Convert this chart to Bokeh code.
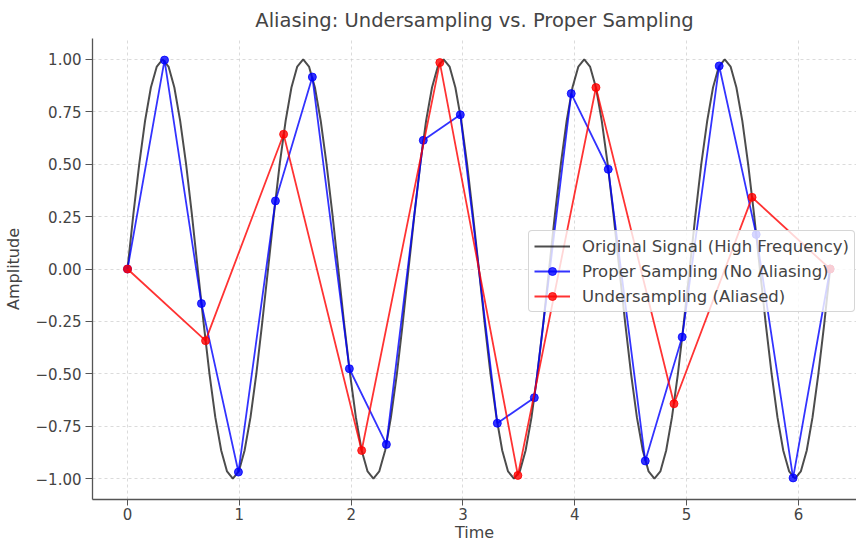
from bokeh.plotting import figure
from bokeh.models import Range1d, Legend, LegendItem, FixedTicker
from bokeh.embed import file_html
from bokeh.resources import INLINE

# Original high-frequency signal (dense samples)
signal_t = [0.000, 0.052, 0.105, 0.157, 0.209, 0.262, 0.314, 0.367, 0.419, 0.471, 0.524, 0.576,
            0.628, 0.681, 0.733, 0.785, 0.838, 0.890, 0.942, 0.995, 1.047, 1.100, 1.152, 1.204,
            1.257, 1.309, 1.361, 1.414, 1.466, 1.518, 1.571, 1.623, 1.676, 1.728, 1.780, 1.833,
            1.885, 1.937, 1.990, 2.042, 2.094, 2.147, 2.199, 2.251, 2.304, 2.356, 2.409, 2.461,
            2.513, 2.566, 2.618, 2.670, 2.723, 2.775, 2.827, 2.880, 2.932, 2.985, 3.037, 3.089,
            3.142, 3.194, 3.246, 3.299, 3.351, 3.403, 3.456, 3.508, 3.560, 3.613, 3.665, 3.718,
            3.770, 3.822, 3.875, 3.927, 3.979, 4.032, 4.084, 4.136, 4.189, 4.241, 4.294, 4.346,
            4.398, 4.451, 4.503, 4.555, 4.608, 4.660, 4.712, 4.765, 4.817, 4.869, 4.922, 4.974,
            5.027, 5.079, 5.131, 5.184, 5.236, 5.288, 5.341, 5.393, 5.445, 5.498, 5.550, 5.603,
            5.655, 5.707, 5.760, 5.812, 5.864, 5.917, 5.969, 6.021, 6.074, 6.126, 6.178, 6.231,
            6.283]
signal_y = [0.000, 0.259, 0.500, 0.707, 0.866, 0.966, 1.000, 0.966, 0.866, 0.707, 0.500, 0.259,
            0.000, -0.259, -0.500, -0.707, -0.866, -0.966, -1.000, -0.966, -0.866, -0.707, -0.500, -0.259,
            0.000, 0.259, 0.500, 0.707, 0.866, 0.966, 1.000, 0.966, 0.866, 0.707, 0.500, 0.259,
            0.000, -0.259, -0.500, -0.707, -0.866, -0.966, -1.000, -0.966, -0.866, -0.707, -0.500, -0.259,
            0.000, 0.259, 0.500, 0.707, 0.866, 0.966, 1.000, 0.966, 0.866, 0.707, 0.500, 0.259,
            0.000, -0.259, -0.500, -0.707, -0.866, -0.966, -1.000, -0.966, -0.866, -0.707, -0.500, -0.259,
            0.000, 0.259, 0.500, 0.707, 0.866, 0.966, 1.000, 0.966, 0.866, 0.707, 0.500, 0.259,
            0.000, -0.259, -0.500, -0.707, -0.866, -0.966, -1.000, -0.966, -0.866, -0.707, -0.500, -0.259,
            0.000, 0.259, 0.500, 0.707, 0.866, 0.966, 1.000, 0.966, 0.866, 0.707, 0.500, 0.259,
            0.000, -0.259, -0.500, -0.707, -0.866, -0.966, -1.000, -0.966, -0.866, -0.707, -0.500, -0.259,
            0.000]

# Proper sampling (no aliasing)
proper_t = [0.000, 0.331, 0.661, 0.992, 1.323, 1.653, 1.984, 2.315, 2.645, 2.976,
            3.307, 3.638, 3.968, 4.299, 4.630, 4.960, 5.291, 5.622, 5.952, 6.283]
proper_y = [0.000, 0.997, -0.165, -0.969, 0.325, 0.916, -0.476, -0.837, 0.614, 0.736,
            -0.736, -0.614, 0.837, 0.476, -0.916, -0.325, 0.969, 0.165, -0.997, 0.000]

# Undersampling (aliased)
under_t = [0.000, 0.698, 1.396, 2.094, 2.793, 3.491, 4.189, 4.887, 5.585, 6.283]
under_y = [0.000, -0.342, 0.643, -0.866, 0.985, -0.985, 0.866, -0.643, 0.342, 0.000]

x_ticks = [0, 1, 2, 3, 4, 5, 6]
y_ticks = [-1.00, -0.75, -0.50, -0.25, 0.00, 0.25, 0.50, 0.75, 1.00]

TEXT = "#444444"
FONT = "DejaVu Sans"

p = figure(frame_width=764, frame_height=461, output_backend="svg", toolbar_location=None,
           x_range=Range1d(-0.313, 6.519), y_range=Range1d(-1.1, 1.1),
           title="Aliasing: Undersampling vs. Proper Sampling",
           min_border_left=0, min_border_right=0, min_border_top=0, min_border_bottom=0)

p.title.align = "center"
p.title.text_font = FONT
p.title.text_font_size = "19.5px"
p.title.text_font_style = "normal"
p.title.text_color = TEXT
p.title.offset = 4
p.title.standoff = 13

p.outline_line_color = None
p.background_fill_color = "white"
p.border_fill_color = "white"

for ax in (p.xaxis[0], p.yaxis[0]):
    ax.axis_line_color = "#555555"
    ax.axis_line_width = 1.3
    ax.major_tick_line_color = "#555555"
    ax.major_tick_out = 7
    ax.major_tick_in = 0
    ax.minor_tick_line_color = None
    ax.major_label_text_font = FONT
    ax.major_label_text_font_size = "15px"
    ax.major_label_text_color = TEXT
    ax.major_label_standoff = 4
    ax.axis_label_text_font = FONT
    ax.axis_label_text_font_size = "16px"
    ax.axis_label_text_font_style = "normal"
    ax.axis_label_text_color = TEXT

p.xaxis.ticker = FixedTicker(ticks=x_ticks)
p.yaxis.ticker = FixedTicker(ticks=y_ticks)
p.yaxis.major_label_overrides = {v: f"{v:.2f}".replace("-", "\u2212") for v in y_ticks}
p.xaxis.axis_label = "Time"
p.yaxis.axis_label = "Amplitude"
p.xaxis.major_tick_out = 6
p.xaxis.major_label_standoff = 2
p.xaxis.axis_label_standoff = 0
p.yaxis.axis_label_standoff = 10

p.xgrid.grid_line_color = "#cccccc"
p.ygrid.grid_line_color = "#cccccc"
p.xgrid.grid_line_dash = "3 3"
p.ygrid.grid_line_dash = "3 3"
p.xgrid.grid_line_alpha = 0.7
p.ygrid.grid_line_alpha = 0.7

r_sig = p.line(signal_t, signal_y, line_color="black", line_alpha=0.7, line_width=2)

r_pl = p.line(proper_t, proper_y, line_color="blue", line_alpha=0.8, line_width=1.8)
r_ps = p.scatter(proper_t, proper_y, size=8, fill_color="blue", line_color="blue",
                 fill_alpha=0.8, line_alpha=0.8)

r_ul = p.line(under_t, under_y, line_color="red", line_alpha=0.8, line_width=1.8)
r_us = p.scatter(under_t, under_y, size=8, fill_color="red", line_color="red",
                 fill_alpha=0.8, line_alpha=0.8)

legend = Legend(items=[
    LegendItem(label="Original Signal (High Frequency)", renderers=[r_sig]),
    LegendItem(label="Proper Sampling (No Aliasing)", renderers=[r_pl, r_ps]),
    LegendItem(label="Undersampling (Aliased)", renderers=[r_ul, r_us]),
], location=(436, 187))
legend.label_text_font = FONT
legend.label_text_font_size = "16.5px"
legend.label_text_color = TEXT
legend.glyph_width = 36
legend.glyph_height = 20
legend.spacing = 5
legend.padding = 5
legend.margin = 0
legend.label_standoff = 12
legend.border_line_color = "#cccccc"
legend.border_line_alpha = 0.8
legend.background_fill_alpha = 0.8
legend.border_radius = 4
p.add_layout(legend, "center")

open("out.html", "w").write(file_html(p, INLINE))
